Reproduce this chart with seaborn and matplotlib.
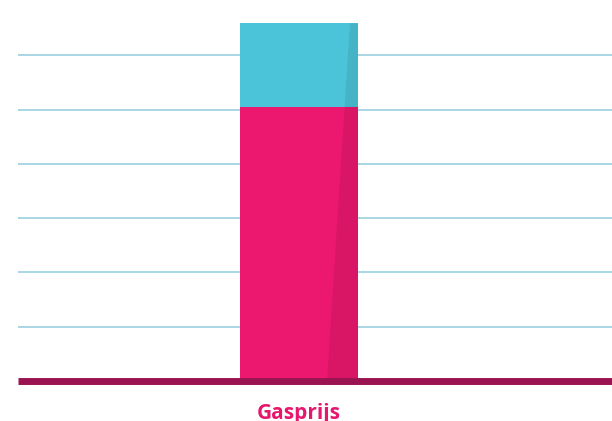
import matplotlib
matplotlib.use("Agg")
import matplotlib.pyplot as plt
import seaborn as sns
import pandas as pd
from matplotlib.patches import Polygon

categories = ["Gasprijs"]
bottom_values = [5.05]   # pink segment
top_values = [1.54]      # cyan segment
grid_ticks = [1, 2, 3, 4, 5, 6]

pink = "#EC186F"
cyan = "#4BC4D9"
base_col = "#9B1452"
grid_col = "#A2D2E1"

sns.set_theme(style="white")
plt.rcParams['font.family'] = ['Open Sans', 'DejaVu Sans']

df = pd.DataFrame({"cat": categories,
                   "bottom": bottom_values,
                   "total": [b + t for b, t in zip(bottom_values, top_values)]})

fig = plt.figure(figsize=(6.12, 4.21), dpi=100)
ax = fig.add_axes([18/612, 40/421, 594/612, 381/421])

for g in grid_ticks:
    ax.axhline(g, color=grid_col, lw=1.3, zorder=0)

sns.barplot(data=df, x="cat", y="total", color=cyan, saturation=1, width=0.8,
            ax=ax, zorder=2, linewidth=0, edgecolor="none")
sns.barplot(data=df, x="cat", y="bottom", color=pink, saturation=1, width=0.8,
            ax=ax, zorder=3, linewidth=0, edgecolor="none")

# right-side shading strip
patches = list(ax.patches)
total_h = max(p.get_height() for p in patches)
for p in patches:
    x0, w = p.get_x(), p.get_width()
    y0, h = p.get_y(), p.get_height()
    def xd(y):
        f = 0.737 + (0.932 - 0.737) * (y / total_h)
        return x0 + w * f
    poly = Polygon([(xd(y0), y0), (xd(y0 + h), y0 + h), (x0 + w, y0 + h), (x0 + w, y0)],
                   closed=True, facecolor="black", alpha=0.08, lw=0, zorder=p.get_zorder() + 0.1)
    ax.add_patch(poly)

ax.axhline(0, color=base_col, lw=5, zorder=5, clip_on=False, solid_capstyle="butt")

ax.set_xlim(-1.905, 2.122)
ax.set_ylim(0, 7.02)
ax.set_yticks([])
ax.set_xlabel("")
ax.set_ylabel("")
ax.tick_params(axis="x", length=0, pad=16)
for lab in ax.get_xticklabels():
    lab.set_color("#E5186E")
    lab.set_fontweight("bold")
    lab.set_fontsize(15)
for s in ax.spines.values():
    s.set_visible(False)

fig.savefig("out.png", dpi=100, facecolor="white")
